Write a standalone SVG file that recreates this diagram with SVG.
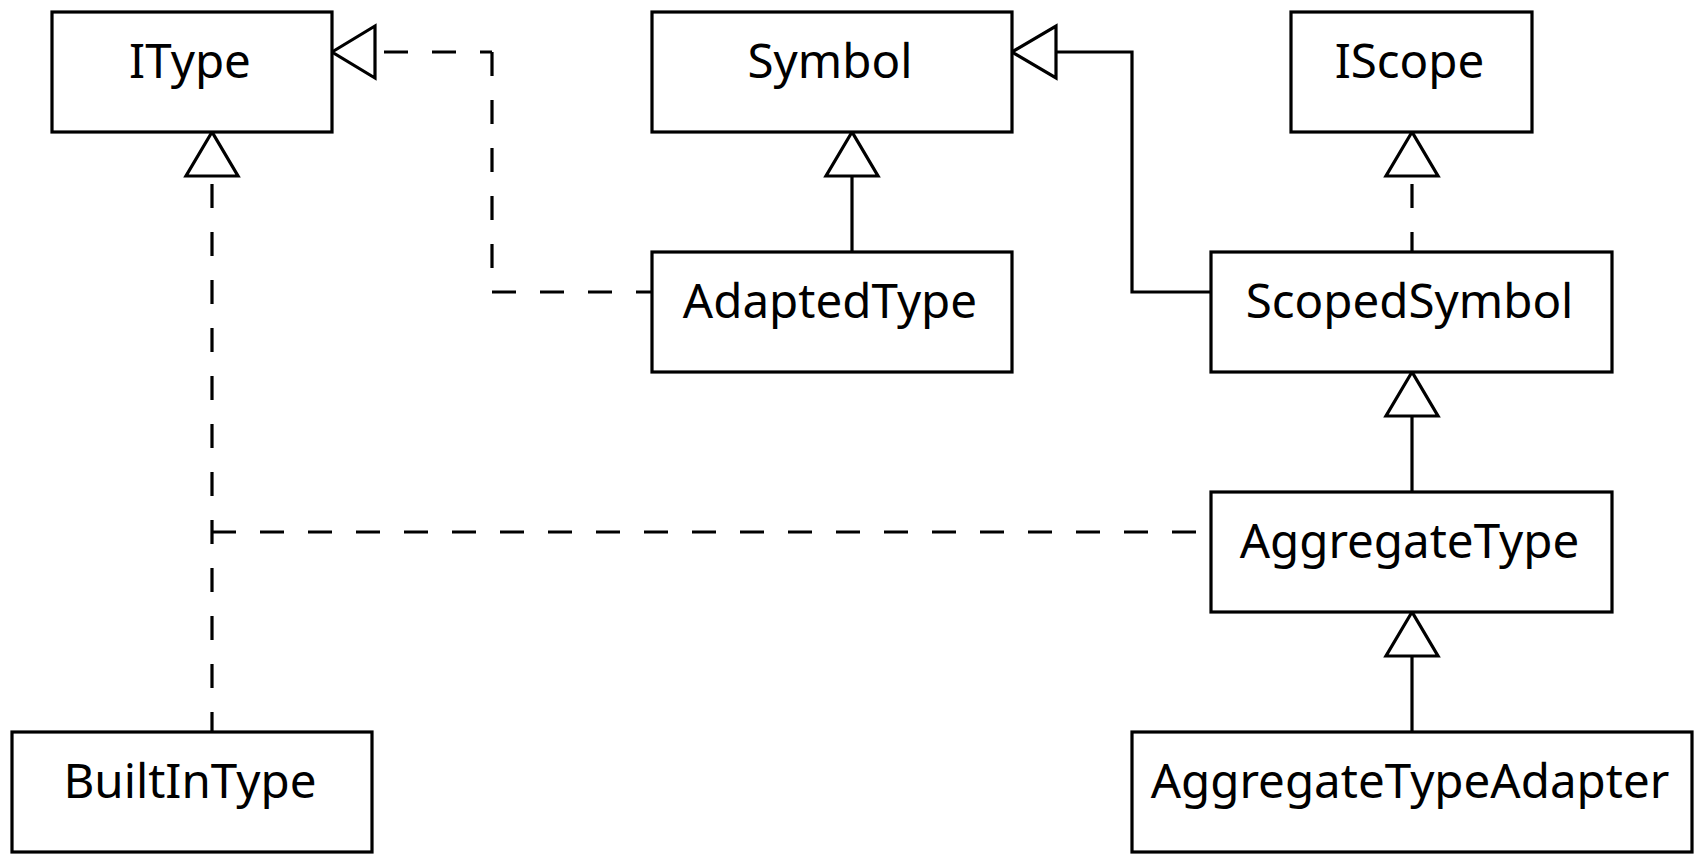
<svg xmlns="http://www.w3.org/2000/svg" width="1700" height="860" viewBox="0 0 1700 860">
<style>
.box{fill:#fff;stroke:#000;stroke-width:3.2}
.lbl{font-family:"Noto Sans","Open Sans","DejaVu Sans",sans-serif;font-size:47.5px;fill:#000;text-anchor:middle}
.ln{fill:none;stroke:#000;stroke-width:3.2}
.dash{stroke-dasharray:24 24}
.head{fill:#fff;stroke:#000;stroke-width:3.2;stroke-linejoin:miter}
</style>
<rect width="1700" height="860" fill="#fff"/>
<g id="connectors">
<!-- AdaptedType realizes IType -->
<line class="ln dash" x1="336" y1="52" x2="492" y2="52"/>
<line class="ln dash" x1="492" y1="52" x2="492" y2="292"/>
<line class="ln dash" x1="492" y1="292" x2="652" y2="292"/>
<polygon class="head" points="332,52 375,26 375,78"/>
<!-- BuiltInType realizes IType -->
<line class="ln dash" x1="212" y1="136" x2="212" y2="732"/>
<polygon class="head" points="212,132 186,176 238,176"/>
<!-- AggregateType realizes IType -->
<line class="ln dash" x1="212" y1="532" x2="1211" y2="532"/>
<!-- AdaptedType extends Symbol -->
<line class="ln" x1="852" y1="176" x2="852" y2="252"/>
<polygon class="head" points="852,132 826,176 878,176"/>
<!-- ScopedSymbol extends Symbol -->
<polyline class="ln" points="1056,52 1132,52 1132,292 1211,292"/>
<polygon class="head" points="1012,52 1056,26 1056,78"/>
<!-- ScopedSymbol realizes IScope -->
<line class="ln dash" x1="1412" y1="136" x2="1412" y2="252"/>
<polygon class="head" points="1412,132 1386,176 1438,176"/>
<!-- AggregateType extends ScopedSymbol -->
<line class="ln" x1="1412" y1="416" x2="1412" y2="492"/>
<polygon class="head" points="1412,372 1386,416 1438,416"/>
<!-- AggregateTypeAdapter extends AggregateType -->
<line class="ln" x1="1412" y1="656" x2="1412" y2="732"/>
<polygon class="head" points="1412,612 1386,656 1438,656"/>
</g>
<g id="IType"><rect class="box" x="52" y="12" width="280" height="120"/><text class="lbl" x="190" y="78">IType</text></g>
<g id="Symbol"><rect class="box" x="652" y="12" width="360" height="120"/><text class="lbl" x="830" y="78">Symbol</text></g>
<g id="IScope"><rect class="box" x="1291" y="12" width="241" height="120"/><text class="lbl" x="1409.5" y="78">IScope</text></g>
<g id="AdaptedType"><rect class="box" x="652" y="252" width="360" height="120"/><text class="lbl" x="830" y="318">AdaptedType</text></g>
<g id="ScopedSymbol"><rect class="box" x="1211" y="252" width="401" height="120"/><text class="lbl" x="1409.5" y="318">ScopedSymbol</text></g>
<g id="AggregateType"><rect class="box" x="1211" y="492" width="401" height="120"/><text class="lbl" x="1409.5" y="558">AggregateType</text></g>
<g id="BuiltInType"><rect class="box" x="12" y="732" width="360" height="120"/><text class="lbl" x="190" y="798">BuiltInType</text></g>
<g id="AggregateTypeAdapter"><rect class="box" x="1132" y="732" width="560" height="120"/><text class="lbl" x="1410" y="798">AggregateTypeAdapter</text></g>
</svg>
